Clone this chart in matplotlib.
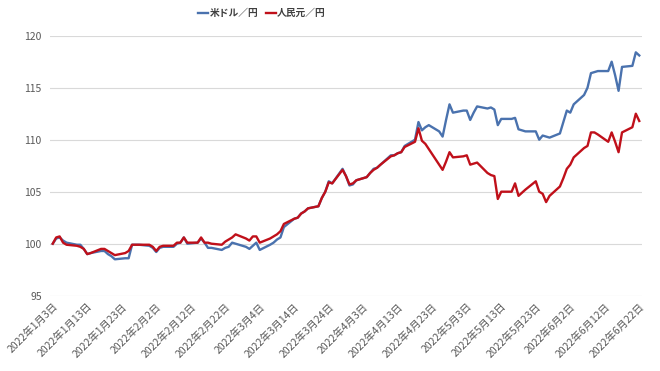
import numpy as np
import pandas as pd
import matplotlib
matplotlib.use("Agg")
import matplotlib.pyplot as plt

plt.rcParams['font.family'] = ['Noto Sans CJK JP', 'DejaVu Sans']

# 2022-01-03 .. 2022-06-22, weekdays
dates = pd.bdate_range("2022-01-03", "2022-06-22")

usd_jpy = [
    100.0, 100.5, 100.6, 100.3, 100.1,
    99.9, 99.9, 99.5, 99.0, 99.1,
    99.3, 99.3, 99.0, 98.8, 98.5,
    98.6, 98.6, 99.9, 99.9, 99.9,
    99.8, 99.6, 99.2, 99.6, 99.7,
    99.7, 100.0, 100.1, 100.6, 100.0,
    100.1, 100.5, 100.1, 99.6, 99.6,
    99.4, 99.6, 99.7, 100.1, 100.0,
    99.7, 99.5, 99.8, 100.1, 99.4,
    99.9, 100.1, 100.4, 100.6, 101.6,
    102.4, 102.5, 102.9, 103.1, 103.4,
    103.6, 104.4, 105.0, 106.0, 105.8,
    107.2, 106.5, 105.6, 105.7, 106.1,
    106.4, 106.8, 107.2, 107.3, 107.6,
    108.5, 108.5, 108.7, 108.8, 109.4,
    110.0, 111.7, 110.9, 111.2, 111.4,
    110.8, 110.3, 111.9, 113.4, 112.6,
    112.8, 112.8, 111.9, 112.6, 113.2,
    113.0, 113.1, 112.9, 111.4, 112.0,
    112.0, 112.1, 111.0, 110.9, 110.8,
    110.8, 110.0, 110.4, 110.3, 110.2,
    110.6, 111.7, 112.8, 112.6, 113.4,
    114.3, 115.0, 116.4, 116.5, 116.6,
    116.6, 117.5, 116.2, 114.7, 117.0,
    117.1, 118.4, 118.1,
]

cny_jpy = [
    100.0, 100.6, 100.7, 100.1, 99.9,
    99.8, 99.7, 99.5, 99.0, 99.1,
    99.5, 99.5, 99.3, 99.1, 98.9,
    99.1, 99.3, 99.9, 99.9, 99.9,
    99.9, 99.7, 99.3, 99.7, 99.8,
    99.8, 100.1, 100.1, 100.6, 100.1,
    100.1, 100.6, 100.1, 100.1, 100.0,
    99.9, 100.2, 100.4, 100.6, 100.9,
    100.5, 100.3, 100.7, 100.7, 100.1,
    100.5, 100.7, 100.9, 101.2, 101.9,
    102.4, 102.5, 102.9, 103.1, 103.4,
    103.6, 104.4, 105.0, 105.9, 105.8,
    107.1, 106.5, 105.7, 105.8, 106.1,
    106.4, 106.8, 107.1, 107.3, 107.6,
    108.4, 108.5, 108.7, 108.8, 109.3,
    109.8, 111.1, 109.9, 109.6, 109.1,
    107.6, 107.1, 107.9, 108.8, 108.3,
    108.4, 108.5, 107.6, 107.7, 107.8,
    106.8, 106.6, 106.5, 104.3, 105.0,
    105.0, 105.8, 104.6, 104.9, 105.2,
    106.0, 105.0, 104.8, 104.0, 104.6,
    105.5, 106.3, 107.2, 107.6, 108.3,
    109.2, 109.4, 110.7, 110.7, 110.5,
    109.8, 110.7, 109.8, 108.8, 110.7,
    111.2, 112.5, 111.8,
]

tick_dates = pd.date_range("2022-01-03", "2022-06-22", freq="10D")
tick_labels = [f"{d.year}年{d.month}月{d.day}日" for d in tick_dates]

fig = plt.figure(figsize=(6.6, 3.71), dpi=100)
ax = fig.add_axes([50 / 660, 1 - 295.7 / 371, 592 / 660, 260 / 371])

ax.plot(dates, usd_jpy, color="#4a72ae", lw=1.7, label="米ドル／円")
ax.plot(dates, cny_jpy, color="#c0101a", lw=1.7, label="人民元／円")

ax.set_ylim(95, 120)
ax.set_yticks([95, 100, 105, 110, 115, 120])
ax.set_xlim(dates[0] - pd.Timedelta(hours=19), dates[-1] + pd.Timedelta(hours=19))
ax.set_xticks(tick_dates)
ax.set_xticklabels(tick_labels, rotation=45, ha="right", rotation_mode="anchor")

ax.grid(axis="y", color="#d9d9d9", lw=0.8)
ax.set_axisbelow(True)
for s in ax.spines.values():
    s.set_visible(False)
ax.tick_params(axis="both", length=0, labelsize=7.5, labelcolor="#595959")
ax.tick_params(axis="y", pad=6)
ax.tick_params(axis="x", pad=4)

leg = fig.legend(loc="center", bbox_to_anchor=(262 / 660, 1 - 13 / 371), ncol=2,
                 frameon=False, fontsize=7, handlelength=1.0, handletextpad=0.15,
                 columnspacing=0.8)
for t in leg.get_texts():
    t.set_color("#404040")
    t.set_fontweight("bold")

fig.savefig("out.png", dpi=100)
